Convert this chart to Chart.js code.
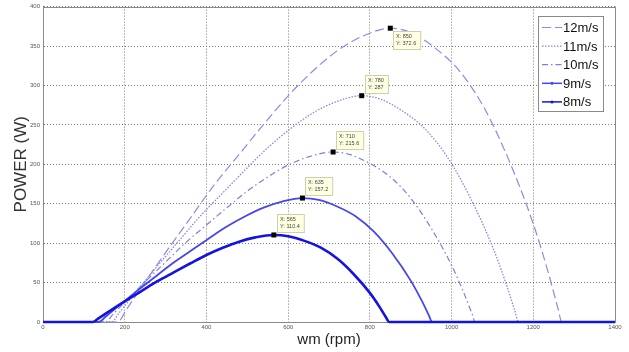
<!DOCTYPE html>
<html>
<head>
<meta charset="utf-8">
<script src="https://cdn.jsdelivr.net/npm/chart.js@4.4.0/dist/chart.umd.min.js"></script>
<style>
  body { margin: 0; background: #fff; }
</style>
</head>
<body>
<canvas id="chart" width="629" height="352"></canvas>
<script>
// series names (legend order)
var labels = ['12m/s', '11m/s', '10m/s', '9m/s', '8m/s'];

// rotor speed (rpm) and power (W)
var rpm12 = [0, 183, 204, 240, 300, 360, 420, 480, 540, 600, 660, 720, 780, 850, 900, 960, 1020, 1080, 1140, 1200, 1236, 1260, 1270, 1400];
var pow12 = [0, 0, 15.6, 43.2, 88.1, 131.3, 174.5, 212.5, 250.6, 286.8, 318.0, 343.9, 362.0, 372.6, 367.2, 347.3, 318.0, 271.3, 205.6, 124.4, 63.9, 18.1, 0, 0];

var rpm11 = [0, 168, 187, 220, 275, 330, 385, 440, 495, 550, 605, 660, 715, 780, 825, 880, 935, 990, 1045, 1100, 1133, 1155, 1164, 1400];
var pow11 = [0, 0, 12.0, 33.3, 67.9, 101.2, 134.4, 163.7, 193.0, 220.9, 244.9, 264.9, 278.8, 287, 282.8, 267.5, 244.9, 209.0, 158.4, 95.8, 49.2, 14.0, 0, 0];

var rpm10 = [0, 153, 170, 200, 250, 300, 350, 400, 450, 500, 550, 600, 650, 710, 750, 800, 850, 900, 950, 1000, 1030, 1050, 1058, 1400];
var pow10 = [0, 0, 9, 25, 51, 76, 101, 123, 145, 166, 184, 199, 209.5, 215.6, 212.5, 201, 184, 157, 119, 72, 37, 10.5, 0, 0];

var rpm9 = [0, 137, 153, 180, 225, 270, 315, 360, 405, 450, 495, 540, 585, 635, 675, 720, 765, 810, 855, 900, 927, 945, 952, 1400];
var pow9 = [0, 0, 6.6, 18.2, 37.2, 55.4, 73.6, 89.7, 105.7, 121.0, 134.1, 145.1, 152.7, 157.2, 154.9, 146.5, 134.1, 114.5, 86.8, 52.5, 27.0, 7.7, 0, 0];

var rpm8 = [0, 122, 136, 160, 200, 240, 280, 320, 360, 400, 440, 480, 520, 565, 600, 640, 680, 720, 760, 800, 824, 840, 847, 1400];
var pow8 = [0, 0, 4.6, 12.8, 26.1, 38.9, 51.7, 63.0, 74.2, 85.0, 94.2, 101.9, 107.3, 110.4, 108.8, 102.9, 94.2, 80.4, 60.9, 36.9, 18.9, 5.4, 0, 0];

// data tips (peaks)
var tipX = [850, 780, 710, 635, 565];
var tipY = [372.6, 287, 215.6, 157.2, 110.4];
var tipPlace = ['below', 'above', 'above', 'above', 'above'];

function toPoints(xs, ys) {
  return xs.map(function (x, i) { return { x: x, y: ys[i] }; });
}

var allRpm = [rpm12, rpm11, rpm10, rpm9, rpm8];
var allPow = [pow12, pow11, pow10, pow9, pow8];
var colors = ['#8b8be4', '#8787e6', '#7d7dde', '#4646ef', '#1414e0'];
var widths = [1.2, 1.3, 1.2, 1.8, 2.6];
var dashes = [[9, 4], [1.5, 1.5], [6, 3, 1.5, 3], [], []];

var datasets = labels.map(function (lab, i) {
  return {
    label: lab,
    data: toPoints(allRpm[i], allPow[i]),
    borderColor: colors[i],
    borderWidth: widths[i],
    borderDash: dashes[i],
    pointRadius: 0,
    cubicInterpolationMode: 'monotone',
    clip: 4,
    order: labels.length - 1 - i
  };
});

var FONT = '"Liberation Sans", Arial, sans-serif';

// frame, data tips and legend box
var extras = {
  id: 'extras',
  afterDatasetsDraw: function (chart) {
    var ctx = chart.ctx, a = chart.chartArea;
    var xs = chart.scales.x, ys = chart.scales.y;
    ctx.save();
    ctx.strokeStyle = '#8a8a8a';
    ctx.lineWidth = 1;
    ctx.setLineDash([]);
    ctx.beginPath();
    ctx.moveTo(Math.round(a.left) + 0.5, Math.round(a.top) + 0.5);
    ctx.lineTo(Math.round(a.right) + 0.5, Math.round(a.top) + 0.5);
    ctx.lineTo(Math.round(a.right) + 0.5, Math.round(a.bottom));
    ctx.stroke();

    // data tips
    ctx.font = '5.5px ' + FONT;
    for (var i = 0; i < tipX.length; i++) {
      var px = xs.getPixelForValue(tipX[i]);
      var py = ys.getPixelForValue(tipY[i]);
      var l1 = 'X: ' + tipX[i], l2 = 'Y: ' + tipY[i];
      var w = Math.max(ctx.measureText(l1).width, ctx.measureText(l2).width) + 7;
      var h = 18;
      var bx = Math.round(px + 3);
      var by = Math.round(tipPlace[i] == 'below' ? py + 3 : py - 3 - h);
      ctx.fillStyle = '#ffffe1';
      ctx.fillRect(bx, by, w, h);
      ctx.strokeStyle = '#cfcfb0';
      ctx.strokeRect(bx + 0.5, by + 0.5, w, h);
      ctx.fillStyle = '#444';
      ctx.textBaseline = 'middle';
      ctx.textAlign = 'left';
      ctx.fillText(l1, bx + 3, by + 5.5);
      ctx.fillText(l2, bx + 3, by + 12.5);
      ctx.fillStyle = '#000';
      ctx.fillRect(px - 2.5, py - 2.5, 5, 5);
    }

    // legend
    var lx = 538.5, ly = 16.5, lw = 65, lh = 95;
    ctx.fillStyle = '#fff';
    ctx.fillRect(lx, ly, lw, lh);
    ctx.strokeStyle = '#8a8a8a';
    ctx.strokeRect(lx, ly, lw, lh);
    ctx.font = '13px ' + FONT;
    chart.data.datasets.forEach(function (ds, k) {
      var cy = 27.5 + k * 18.6;
      ctx.strokeStyle = ds.borderColor;
      ctx.lineWidth = Math.min(ds.borderWidth, 1.5);
      ctx.setLineDash(ds.borderDash);
      ctx.beginPath();
      ctx.moveTo(542, cy);
      ctx.lineTo(562, cy);
      ctx.stroke();
      ctx.setLineDash([]);
      if (k >= 3) {
        ctx.fillStyle = ds.borderColor;
        ctx.beginPath();
        ctx.arc(552, cy, 1.5, 0, Math.PI * 2);
        ctx.fill();
      }
      ctx.fillStyle = '#111';
      ctx.fillText(ds.label, 563, cy + 1);
    });
    ctx.restore();
  }
};

new Chart(document.getElementById('chart'), {
  type: 'line',
  data: { datasets: datasets },
  options: {
    responsive: false,
    animation: false,
    layout: { padding: { top: 6, right: 14, left: 0, bottom: 0 } },
    plugins: {
      legend: { display: false },
      tooltip: { enabled: false }
    },
    scales: {
      x: {
        type: 'linear',
        min: 0,
        max: 1400,
        ticks: {
          stepSize: 200, padding: 2, color: '#555', font: { family: FONT, size: 6 },
          callback: function (v) { return String(v); }
        },
        grid: { color: '#7a7a7a', drawTicks: false },
        border: { color: '#8a8a8a', dash: [1, 2] },
        title: {
          display: true,
          text: 'wm (rpm)',
          color: '#222',
          font: { family: FONT, size: 15 },
          padding: { top: 0, bottom: 3 }
        },
        afterFit: function (scale) { scale.height = 30; }
      },
      y: {
        min: 0,
        max: 400,
        ticks: {
          stepSize: 50, padding: 3, color: '#555', font: { family: FONT, size: 6 },
          callback: function (v) { return String(v); }
        },
        grid: { color: '#7a7a7a', drawTicks: false },
        border: { color: '#8a8a8a', dash: [1, 2] },
        title: {
          display: true,
          text: 'POWER (W)',
          color: '#333',
          font: { family: FONT, size: 17 },
          padding: { top: 11, bottom: 0 }
        },
        afterFit: function (scale) { scale.width = 43; }
      }
    }
  },
  plugins: [extras]
});
</script>
</body>
</html>
